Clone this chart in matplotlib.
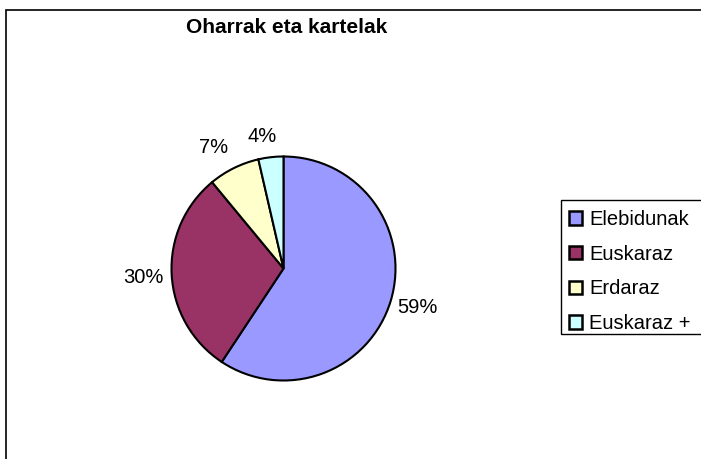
import numpy as np
import matplotlib
matplotlib.use("Agg")
import matplotlib.pyplot as plt
from matplotlib.patches import Rectangle
import matplotlib.transforms as mtransforms

plt.rcParams['font.family'] = ['Liberation Sans', 'DejaVu Sans']

title = "Oharrak eta kartelak"
categories = ["Elebidunak", "Euskaraz", "Erdaraz", "Euskaraz +"]
values = [59.3, 29.7, 7.4, 3.6]
colors = ["#9999FF", "#993366", "#FFFFCC", "#CCFFFF"]

W, H = 701, 459
fig = plt.figure(figsize=(W / 100, H / 100), dpi=100)

# chart area border (runs off right/bottom edge like the original)
fig.patches.append(Rectangle((6 / W, -0.5), 2.0, 1.5 - 10 / H,
                             transform=fig.transFigure, fill=False,
                             edgecolor="black", linewidth=1.2))

# pie axes: center (283.5, 268.5) px, radius 112 px
cx, cy, r = 283.5, 268.5, 112
ax = fig.add_axes([(cx - r) / W, (H - cy - r) / H, 2 * r / W, 2 * r / H])
wedges, texts, autotexts = ax.pie(values, colors=colors, startangle=90, counterclock=False,
                                  autopct="%.0f%%", pctdistance=1.25,
                                  wedgeprops=dict(edgecolor="black", linewidth=1.5),
                                  textprops=dict(fontsize=14.5, color="black"))
ax.set_xlim(-1, 1)
ax.set_ylim(-1, 1)
ax.axis("off")

# small nudges for the label placement (pixels, x right / y up)
nudges = [(0, 1), (0, -2), (-8, -5), (-6, -7)]
for t, (dx, dy) in zip(autotexts, nudges):
    t.set_transform(t.get_transform() + mtransforms.ScaledTranslation(dx / 100, dy / 100, fig.dpi_scale_trans))

fig.text(286.5 / W, 1 - 27.5 / H, title, ha="center", va="center",
         fontsize=15, fontweight="bold")

# legend box, open to the right edge like the original
fig.patches.append(Rectangle((561 / W, 1 - 334 / H), 0.5, 134 / H,
                             transform=fig.transFigure, fill=False,
                             edgecolor="black", linewidth=1.0))
leg = fig.legend(wedges, categories, loc="upper left",
                 bbox_to_anchor=(561 / W, 1 - 202 / H),
                 fontsize=14.5, frameon=False,
                 handlelength=0.65, handleheight=0.65, handletextpad=0.35,
                 labelspacing=0.78, borderpad=0.4, borderaxespad=0)
for h in leg.legend_handles:
    h.set_linewidth(1.8)

fig.savefig("out.png", dpi=100, facecolor="white")
